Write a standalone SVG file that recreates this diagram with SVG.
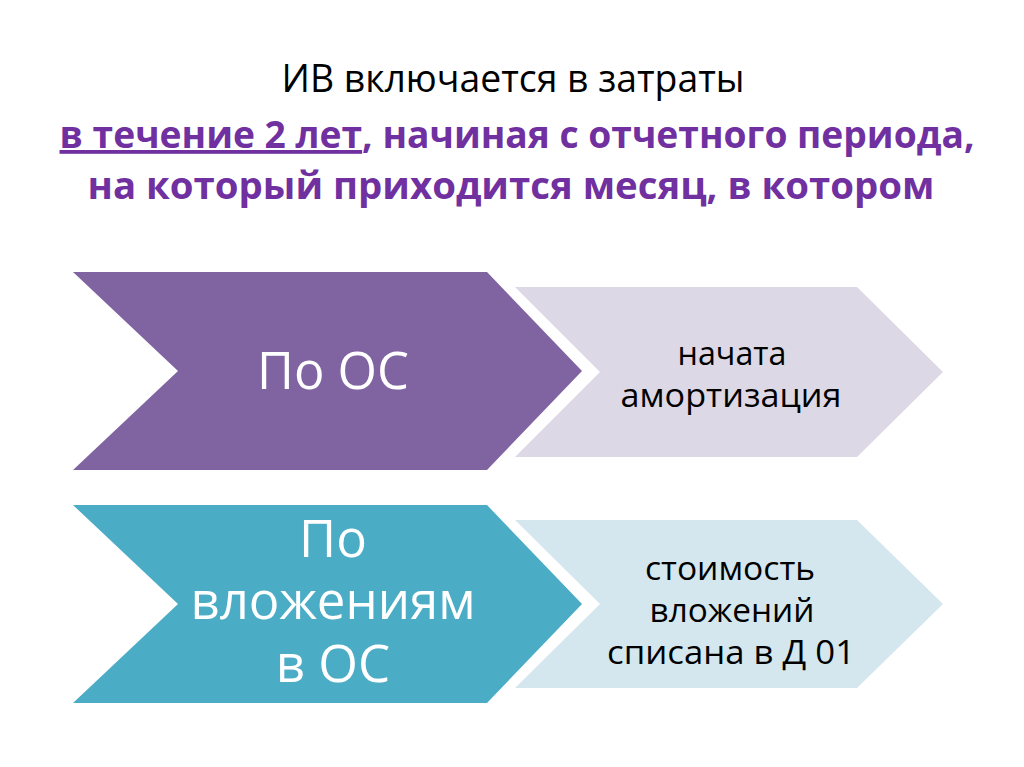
<svg xmlns="http://www.w3.org/2000/svg" width="1024" height="767" viewBox="0 0 1024 767">
<style>
.t1{font-family:"Open Sans","Liberation Sans",sans-serif;font-size:39px;fill:#000;text-anchor:middle}
.t2{font-family:"Open Sans","Liberation Sans",sans-serif;font-size:38px;font-weight:bold;fill:#7030A0;text-anchor:middle}
.big{font-family:"Open Sans","Liberation Sans",sans-serif;font-size:51px;fill:#fff;text-anchor:middle}
.sm{font-family:"Open Sans","Liberation Sans",sans-serif;font-size:33px;fill:#000;text-anchor:middle}
</style>
<rect width="1024" height="767" fill="#fff"/>
<g id="title">
<text class="t1" x="513" y="92" textLength="463" lengthAdjust="spacingAndGlyphs">ИВ включается в затраты</text>
<text class="t2" x="517" y="148" textLength="915" lengthAdjust="spacingAndGlyphs"><tspan text-decoration="underline">в течение 2 лет</tspan>, начиная с отчетного периода,</text>
<text class="t2" x="511" y="199" textLength="847" lengthAdjust="spacingAndGlyphs">на который приходится месяц, в котором</text>
</g>
<g id="node-os">
<polygon points="73,272 487,272 582,371 487,470 73,470 178,371" fill="#8064A2"/>
<text class="big" x="333" y="389" textLength="152" lengthAdjust="spacingAndGlyphs">По ОС</text>
</g>
<g id="node-os-cond">
<polygon points="515,287 857,287 943,372 857,457 515,457 600,372" fill="#DDD8E5"/>
<text class="sm" x="732" y="365" textLength="109" lengthAdjust="spacingAndGlyphs">начата</text>
<text class="sm" x="731" y="407" textLength="221" lengthAdjust="spacingAndGlyphs">амортизация</text>
</g>
<g id="node-inv">
<polygon points="73,505 487,505 582,604 487,703 73,703 178,604" fill="#4BACC6"/>
<text class="big" x="333" y="557">По</text>
<text class="big" x="333" y="619" textLength="285" lengthAdjust="spacingAndGlyphs">вложениям</text>
<text class="big" x="333" y="682">в ОС</text>
</g>
<g id="node-inv-cond">
<polygon points="515,520 857,520 943,604 857,688 515,688 600,604" fill="#D4E7EE"/>
<text class="sm" x="730" y="580" textLength="170" lengthAdjust="spacingAndGlyphs">стоимость</text>
<text class="sm" x="732" y="622" textLength="165" lengthAdjust="spacingAndGlyphs">вложений</text>
<text class="sm" x="731" y="664" textLength="248" lengthAdjust="spacingAndGlyphs">списана в Д 01</text>
</g>
<g id="connectors"></g>
</svg>
